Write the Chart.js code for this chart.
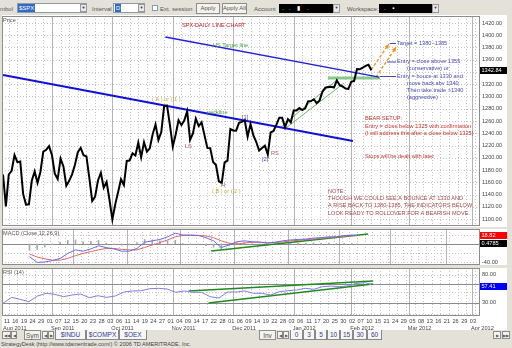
<!DOCTYPE html>
<html><head><meta charset="utf-8">
<script src="https://cdn.jsdelivr.net/npm/chart.js@4.4.0/dist/chart.umd.min.js"></script>
<style>
body{margin:0;width:512px;height:348px;overflow:hidden;background:#e4e1d8;font-family:"Liberation Sans",Arial,sans-serif;position:relative;color:#555}
.a{position:absolute;white-space:nowrap;font-size:6px;line-height:8px}
canvas{position:absolute}
.box{position:absolute;background:#fff;border:1px solid #8a9ab0;box-sizing:border-box}
.dd{position:absolute;background:#e8e8e8;border:1px solid #999;box-sizing:border-box;font-size:4px;line-height:6px;text-align:center;color:#333}
.btn{position:absolute;background:#f4f3ee;border:1px solid #8c8c8c;box-sizing:border-box;font-size:6px;line-height:9px;text-align:center;color:#555}
.blk{position:absolute;background:#000;color:#fff;font-size:6px;line-height:9px}
.tab{position:absolute;background:#f6f6f2;border:1px solid #888;border-top:none;box-sizing:border-box;font-size:6.5px;line-height:9px;text-align:center;color:#3040a0}
</style></head><body>
<!-- toolbar -->
<div class="a" style="left:0;top:5px">mbol</div>
<div class="box" style="left:17px;top:3px;width:70px;height:10px"></div>
<div class="a" style="left:18px;top:4px;background:#316ac5;color:#fff;padding:0 1px">$SPX</div>
<div class="dd" style="left:80px;top:4px;width:7px;height:8px">▼</div>
<div class="a" style="left:92px;top:5px">Interval</div>
<div class="box" style="left:113px;top:3px;width:32px;height:10px"></div>
<div class="a" style="left:115px;top:4px;background:#316ac5;color:#fff;padding:0 1px">D</div>
<div class="dd" style="left:138px;top:4px;width:7px;height:8px">▼</div>
<div class="box" style="left:152px;top:5px;width:6px;height:6px"></div>
<div class="a" style="left:160px;top:5px">Ext. session</div>
<div class="btn" style="left:196px;top:3px;width:24px;height:11px">Apply</div>
<div class="btn" style="left:222px;top:3px;width:25px;height:11px">Apply All</div>
<div class="a" style="left:254px;top:5px">Account</div>
<div class="blk" style="left:279px;top:4px;width:54px;height:9px">&nbsp;&nbsp;.&nbsp;&nbsp;&nbsp;.&nbsp;&nbsp;&nbsp;&nbsp;▮&nbsp;&nbsp;&nbsp;&nbsp;.</div>
<div class="dd" style="left:333px;top:4px;width:7px;height:9px">▼</div>
<div class="a" style="left:347px;top:5px">Workspace:</div>
<div class="blk" style="left:379px;top:4px;width:53px;height:9px">&nbsp;&nbsp;&nbsp;.&nbsp;&nbsp;&nbsp;&nbsp;▪</div>
<div class="dd" style="left:432px;top:4px;width:7px;height:9px">▼</div>

<canvas id="cPrice" width="505" height="212" style="left:2px;top:15px"></canvas>
<canvas id="cMacd" width="505" height="36" style="left:2px;top:229px"></canvas>
<canvas id="cRsi" width="505" height="62" style="left:2px;top:268px"></canvas>

<!-- bottom bar -->
<div class="btn" style="left:2px;top:331px;width:9px;height:8px;line-height:7px;font-size:4px">◀◀</div>
<div class="btn" style="left:11px;top:331px;width:6px;height:8px;line-height:7px;font-size:4px">◀</div>
<div class="btn" style="left:24px;top:330px;width:17px;height:10px;font-size:6.5px">Sym</div>
<div class="btn" style="left:42px;top:331px;width:6px;height:8px;line-height:7px;font-size:4px">◀</div>
<div class="btn" style="left:48px;top:331px;width:6px;height:8px;line-height:7px;font-size:4px">▶</div>
<div class="tab" style="left:55px;top:330px;width:31px;height:10px">$INDU</div>
<div class="tab" style="left:86px;top:330px;width:33px;height:10px">$COMPX</div>
<div class="tab" style="left:119px;top:330px;width:28px;height:10px">$OEX</div>
<div class="btn" style="left:259px;top:330px;width:17px;height:10px;font-size:6.5px">Inv</div>
<div class="btn" style="left:277px;top:331px;width:6px;height:8px;line-height:7px;font-size:4px">◀</div>
<div class="btn" style="left:283px;top:331px;width:6px;height:8px;line-height:7px;font-size:4px">▶</div>
<div class="tab" style="left:290px;top:330px;width:13px;height:10px">0</div>
<div class="tab" style="left:303px;top:330px;width:12px;height:10px">3</div>
<div class="tab" style="left:315px;top:330px;width:12px;height:10px">5</div>
<div class="tab" style="left:327px;top:330px;width:13px;height:10px">10</div>
<div class="tab" style="left:340px;top:330px;width:13px;height:10px">15</div>
<div class="tab" style="left:353px;top:330px;width:14px;height:10px">30</div>
<div class="tab" style="left:367px;top:330px;width:15px;height:10px">60</div>
<div class="btn" style="left:493px;top:331px;width:8px;height:8px;line-height:7px;font-size:4px">▶</div>
<div class="btn" style="left:502px;top:331px;width:8px;height:8px;line-height:7px;font-size:4px">▶▶</div>
<div class="a" style="left:1px;top:340px;font-size:5.6px;color:#444">StrategyDesk (http://www.tdameritrade.com/) © 2006 TD AMERITRADE, Inc.</div>

<script>
// ================= DATA =================
// daily closes, trading day 0 = Aug 9 2011 ... Feb 10 2012
const priceClose = [1172.53,1120.76,1172.64,1178.81,1204.49,1192.76,1193.89,1140.65,1123.53,1123.82,1162.35,1177.60,1159.27,1176.80,1210.08,1212.92,1218.89,
1204.42,1173.97,1165.24,1198.62,1185.90,1154.23,1162.27,1172.87,1188.68,1209.11,1216.01,1204.09,1202.09,1166.76,1129.56,1136.43,1162.95,1175.38,1151.06,1160.40,1131.42,
1099.23,1123.95,1144.03,1164.97,1155.46,1194.89,1195.54,1207.25,1203.66,1224.58,1200.86,1225.38,1209.88,1215.39,1238.25,1254.19,1229.05,1242.00,1284.59,1285.09,1253.30,
1218.28,1237.90,1261.15,1253.23,1261.12,1275.92,1229.10,1239.70,1263.85,1251.78,1257.81,1236.91,1216.13,1215.65,1192.98,1188.04,1161.79,1158.67,1192.55,1195.19,1246.96,
1244.58,1244.28,1257.08,1258.47,1261.01,1234.35,1255.19,1236.47,1225.73,1211.82,1215.75,1219.66,1205.35,1241.30,1243.72,1254.00,1265.33,1265.43,1249.64,1263.02,1257.60,
1277.06,1277.30,1281.06,1277.81,1280.70,1292.08,1292.48,1295.50,1289.09,1293.67,1308.04,1314.50,1315.38,1316.00,1314.65,1326.06,1318.43,1316.33,1313.01,1312.41,
1324.09,1325.54,1344.90,1344.33,1347.05,1349.96,1351.95,1342.84];

// indicator samples (trading-day index)
const indDays = [0,3,6,9,12,15,18,21,24,27,30,33,36,39,42,45,48,51,54,57,60,63,66,69,72,75,78,81,84,87,90,93,96,99,102,105,108,111,114,117,120,123,126,128];
const macdLine = [-28,-41,-40,-37,-32,-21,-13,-16,-11,-4,-8,-11,-16,-16,-10,4,7,10,16,24,20,19,19,14,7,-8,-2,5,7,5,4,1.5,4,7,9,10,11,13,14,16,16,18.5,20,18.82];
const macdSignal = [-22,-29,-33,-36,-36,-32,-26,-21,-17,-13,-10,-10,-12,-13,-13,-8,-2,3,9,16,19,20,19,18,14,7,1.5,0,2,4,4,3,3,4.5,7,8,9.6,11,12.6,14,15,17,18.5,18.34];
const macdHist = [-14,-12,-7,-1,4,8,9,5,6,8,2,-1,-3,-2,3,10,9,7,7,8,1,-1,0,-4,-7,-12,-4,4,4,1,0,-2,1,2.5,2,2,1.4,2,1.4,2,1,1.5,1.5,0.48];
const rsiLine = [28.9,39.6,36,31.8,42,46.8,45,40.7,43.8,45.5,38.9,42.5,39.6,42,49,51,51.4,55,55.7,54.5,48.6,51,48.6,48.6,40.7,38.4,49,49,51,46.8,46.8,43.8,49.6,51.4,52.7,55.7,54,58.6,59.8,58.6,60.4,64.6,65.7,62];

// drawn trend lines (day index, value)
const neckTrend   = [{x:0,y:1335.1},{x:121.6,y:1227.3}];
const hsTarget    = [{x:56.4,y:1397.1},{x:130.7,y:1331.8}];
const support1330 = [{x:112.9,y:1330},{x:131,y:1330}];
const channelA    = [{x:96.5,y:1250},{x:116.4,y:1328.6}];
const channelB    = [{x:98.3,y:1248.6},{x:118.5,y:1322}];
const arrowUp1    = [{x:127.9,y:1343.7},{x:134.1,y:1385.7}];
const arrowUp2    = [{x:129.6,y:1331.8},{x:136.6,y:1380.8}];
const macdTrend   = [{x:71.1,y:-15.6},{x:132.4,y:22.2}];
const rsiUpper    = [{x:64.5,y:50.9},{x:128.6,y:68.75}];
const rsiLower    = [{x:71.4,y:29.5},{x:128.6,y:63.4}];

// axis labels
const tickLabels = ['11','16','19','24','29','01','07','12','15','20','23','28','03','06','11','14','19','24','27','01','04','09','14','17','22','28','01','06','09','14','19','22','28','03','06','11','17','20','25','30','02','07','10','15','21','24','29','05','08','13','16','21','26','29','03'];
const TICK0 = 2, TICKSTEP = 3;
const monthLabels = ['Aug 2011','Sep 2011','Oct 2011','Nov 2011','Dec 2011','Jan 2012','Feb 2012','Mar 2012','Apr 2012'];
const monthStart = [0,17,38,59,80,101,121,141,163];
const priceTicks = [1420,1400,1380,1360,1340,1320,1300,1280,1260,1240,1220,1200,1180,1160,1140,1120,1100];
const lastPrice = '1342.84', lastMacd = '18.82', lastHist = '0.4785', lastRsi = '57.41';

// ================= DRAWING =================
const XMIN = -0.347, XMAX = 165.74;
const FONT = '5.6px "Liberation Sans", Arial, sans-serif';
const pts = a => a;
const dayPts = (days, vals) => vals.map((v,i)=>({x:days[i], y:v}));

function lineDs(data, color, w, dash){
  return {type:'line', data, borderColor:color, borderWidth:w, pointRadius:0, borderDash:dash||[], tension:0, fill:false, parsing:false};
}
function hline(c,a,py){py=Math.round(py)+0.5;c.beginPath();c.moveTo(a.left,py);c.lineTo(a.right,py);c.stroke();}
function vline(c,a,px){px=Math.round(px)+0.5;c.beginPath();c.moveTo(px,a.top);c.lineTo(px,a.bottom);c.stroke();}

function decor(cfg){
  return {
    id:'decor',
    beforeDatasetsDraw(chart){
      const c=chart.ctx,a=chart.chartArea,x=chart.scales.x,y=chart.scales.y;
      c.save();
      c.lineWidth=1;
      c.strokeStyle='#c4c4c4'; c.setLineDash([1,2]);
      for(let k=0;k<tickLabels.length;k++) vline(c,a,x.getPixelForValue(TICK0+k*TICKSTEP));
      for(const v of cfg.hGrid) hline(c,a,y.getPixelForValue(v));
      c.setLineDash([]);
      c.strokeStyle='#b4b4b4';
      for(const m of monthStart.slice(1)) vline(c,a,x.getPixelForValue(m));
      c.strokeStyle='#8a8a8a';
      for(const v of (cfg.hSolid||[])) hline(c,a,y.getPixelForValue(v));
      c.restore();
    },
    beforeDraw(chart){
      const c=chart.ctx; c.save(); c.fillStyle='#fff'; c.fillRect(0,0,chart.width,chart.height); c.restore();
    },
    afterDraw(chart){
      const c=chart.ctx,a=chart.chartArea,x=chart.scales.x,y=chart.scales.y;
      c.save();
      c.strokeStyle='#8c8c8c'; c.lineWidth=1;
      c.strokeRect(a.left+0.5,a.top+0.5,a.right-a.left-1,a.bottom-a.top-1);
      c.font=FONT; c.textBaseline='middle'; c.textAlign='left';
      c.fillStyle='#444';
      for(const v of cfg.yLabels) c.fillText(v.toFixed(2), a.right+2, y.getPixelForValue(v));
      for(const b of (cfg.boxes||[])){
        const py=y.getPixelForValue(b.v);
        c.fillStyle=b.bg; c.fillRect(a.right,Math.round(py-3.5),28,7);
        c.fillStyle='#fff'; c.fillText(b.t, a.right+1.5, py);
      }
      const ox=2, oy=cfg.top;
      for(const t of (cfg.texts||[])){ c.fillStyle=t[3]; c.fillText(t[0], t[1]-ox, t[2]-oy); }
      for(const l of (cfg.marks||[])){ c.strokeStyle=l[4]; c.lineWidth=1; c.beginPath(); c.moveTo(l[0]-ox,l[1]-oy+0.5); c.lineTo(l[2]-ox,l[3]-oy+0.5); c.stroke(); }
      // arrow heads
      for(const di of (cfg.arrows||[])){
        const d=chart.getDatasetMeta(di).data; const p1=d[d.length-2], p2=d[d.length-1];
        const ang=Math.atan2(p2.y-p1.y,p2.x-p1.x), L=5;
        c.fillStyle='#f0901a'; c.beginPath(); c.moveTo(p2.x,p2.y);
        c.lineTo(p2.x-L*Math.cos(ang-0.45),p2.y-L*Math.sin(ang-0.45));
        c.lineTo(p2.x-L*Math.cos(ang+0.45),p2.y-L*Math.sin(ang+0.45)); c.closePath(); c.fill();
      }
      if(cfg.xAxis){
        c.fillStyle='#444'; c.textAlign='right';
        const ty=a.bottom+5.5;
        for(let k=0;k<tickLabels.length;k++) c.fillText(tickLabels[k], x.getPixelForValue(TICK0+k*TICKSTEP)+1, ty);
        c.textAlign='left';
        monthLabels.forEach((m,i)=>c.fillText(m, Math.max(a.left+1, x.getPixelForValue(monthStart[i])-1), ty+6.5));
      }
      c.restore();
    }
  };
}

function makeChart(id, datasets, ymin, ymax, pad, cfg){
  return new Chart(document.getElementById(id), {
    data:{datasets},
    options:{
      responsive:false, animation:false, devicePixelRatio:1, events:[],
      layout:{padding:{left:0,right:27,top:pad[0],bottom:pad[1]}},
      scales:{x:{type:'linear',min:XMIN,max:XMAX,display:false}, y:{type:'linear',min:ymin,max:ymax,display:false}},
      plugins:{legend:{display:false},tooltip:{enabled:false}}
    },
    plugins:[decor(cfg)]
  });
}

// ---- price panel ----
const blueTxt='#4848b8', redTxt='#c83030', noteTxt='#a84848', greenTxt='#40a040', olive='#b8ae3a', brown='#a85858';
makeChart('cPrice', [
  lineDs(priceClose.map((v,i)=>({x:i,y:v})), '#000', 2),
  lineDs(neckTrend, '#1010d8', 2),
  lineDs(hsTarget, '#2020e0', 1.3),
  lineDs(support1330, '#88c888', 3),
  lineDs(channelA, '#58b058', 0.9),
  lineDs(channelB, '#58b058', 0.9),
  lineDs(arrowUp1, '#f0901a', 1.3, [3,2]),
  lineDs(arrowUp2, '#f0901a', 1.3, [3,2])
], 1088.6, 1431.4, [1,1], {
  top:15, hGrid:priceTicks, yLabels:priceTicks,
  boxes:[{v:1342.84, t:lastPrice, bg:'#000'}],
  arrows:[6,7],
  texts:[
    ['Price',3,20,'#555'],
    ['SPX-DAILY LINE CHART',182,25.5,'#c82020'],
    ['HS Target line',213,45,greenTxt],
    ['( A ) or ( 1 )',152,99,olive],
    ['LS',185,146,brown],
    ['neckline',207,112,greenTxt],
    ['[1]',242,117,blueTxt],
    ['RS',271,153,brown],
    ['[2]',262,159,blueTxt],
    ['H',221,185,brown],
    ['( B ) or ( 2 )',212,191,olive],
    ['Target = 1380 -1385',397,43,blueTxt],
    ['Entry = close above 1355',397,61.5,blueTxt],
    ['(conservative) or',407,68.5,blueTxt],
    ['Entry = bouce at 1330 and',397,76,blueTxt],
    ['move back abv 1340.',407,83,blueTxt],
    ['Then take trade >1340',407,90,blueTxt],
    ['(aggressive)',407,97,blueTxt],
    ['BEAR SETUP:',365,118,redTxt],
    ['Entry = close below 1325 with confirmation',365,126,redTxt],
    ['(I will address this after a close below 1325)',365,133,redTxt],
    ['Stops will be dealt with later',365,156,redTxt],
    ['NOTE:',328,191,noteTxt],
    ['THOUGH WE COULD SEE A BOUNCE AT 1330 AND',328,198,noteTxt],
    ['A RISE BACK TO 1380-1385, THE INDICATORS BELOW',328,205.5,noteTxt],
    ['LOOK READY TO ROLLOVER FOR A BEARISH MOVE.',328,213,noteTxt]
  ],
  marks:[[390,43,396,43,blueTxt],[387,61.5,396,61.5,blueTxt],[380,76,396,76,blueTxt]]
});

// ---- MACD panel ----
makeChart('cMacd', [
  lineDs(dayPts(indDays,macdLine), '#6a6ae8', 1),
  lineDs(dayPts(indDays,macdSignal), '#e06868', 1),
  lineDs(macdTrend, '#208a20', 1.3),
  {type:'bar', data:dayPts(indDays,macdHist), backgroundColor:'#a8a8a8', barThickness:1, parsing:false, grouped:false}
], -46.7, 33.3, [0,0], {
  top:229, hGrid:[20,-20,-40], hSolid:[0], yLabels:[-40],
  boxes:[{v:18.82,t:lastMacd,bg:'#ff0000'},{v:0.4785,t:lastHist,bg:'#000'}],
  texts:[['MACD (Close,12,26,9)',3,233,'#555']]
});

// ---- RSI panel ----
makeChart('cRsi', [
  lineDs(dayPts(indDays,rsiLine), '#8080e0', 1),
  lineDs(rsiUpper, '#208a20', 1.3),
  lineDs(rsiLower, '#208a20', 1.3)
], 6.25, 92, [0,14], {
  top:268, hGrid:[80,50,30,10], hSolid:[62.9,28.9], yLabels:[80,30],
  boxes:[{v:59,t:lastRsi,bg:'#0000ff'}],
  texts:[['RSI (14)',3,272,'#555']],
  xAxis:true
});
</script>
</body></html>
